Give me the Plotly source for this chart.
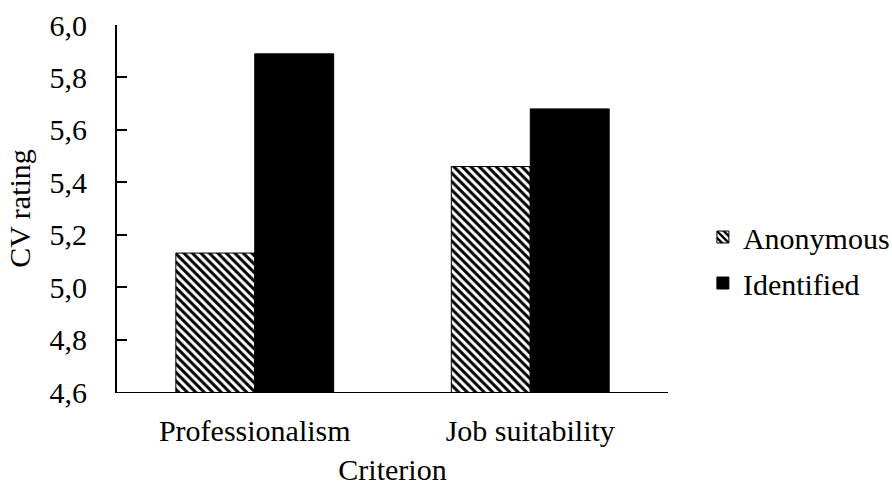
import plotly.graph_objects as go

categories = ["Professionalism", "Job suitability"]
anonymous = [5.13, 5.46]
identified = [5.89, 5.68]
y_ticks = [4.6, 4.8, 5.0, 5.2, 5.4, 5.6, 5.8, 6.0]
y_tick_labels = ["4,6", "4,8", "5,0", "5,2", "5,4", "5,6", "5,8", "6,0"]

FONT = "Liberation Serif"

fig = go.Figure()
fig.add_trace(go.Bar(
    name="Anonymous", x=categories, y=anonymous, legendgroup="a",
    marker=dict(color="white", line=dict(color="black", width=1),
                pattern=dict(shape="\\", fgcolor="black", bgcolor="white",
                             fgopacity=1, size=6, solidity=0.5)),
))
fig.add_trace(go.Bar(
    name="Identified", x=categories, y=identified, legendgroup="b",
    marker=dict(color="black", line=dict(color="black", width=1)),
))

fig.update_layout(
    width=892, height=486,
    margin=dict(l=117, r=224, t=25, b=94, autoexpand=False),
    paper_bgcolor="white", plot_bgcolor="white",
    font=dict(family=FONT, size=30, color="black"),
    barmode="group", bargap=0.427, bargroupgap=0,
    showlegend=True,
    legend=dict(xref="container", yref="container", x=0.788, xanchor="left",
                y=(486 - 260) / 486, yanchor="middle",
                font=dict(family=FONT, size=30), itemwidth=30, tracegroupgap=4,
                bgcolor="rgba(0,0,0,0)"),
    xaxis=dict(
        showline=True, linecolor="black", linewidth=1, ticks="",
        ticklabelstandoff=12, automargin=False,
        title=dict(text="Criterion", standoff=14, font=dict(family=FONT, size=30)),
        tickfont=dict(family=FONT, size=30),
    ),
    yaxis=dict(
        range=[4.6, 6.0], tickvals=y_ticks, ticktext=y_tick_labels,
        showline=True, linecolor="black", linewidth=2, automargin=False,
        ticks="inside", ticklen=10, tickwidth=2, tickcolor="black",
        showgrid=False, zeroline=False, ticklabelstandoff=22,
        title=dict(text="CV rating", standoff=10, font=dict(family=FONT, size=30)),
        tickfont=dict(family=FONT, size=30),
    ),
)

fig.write_html("out.html")
